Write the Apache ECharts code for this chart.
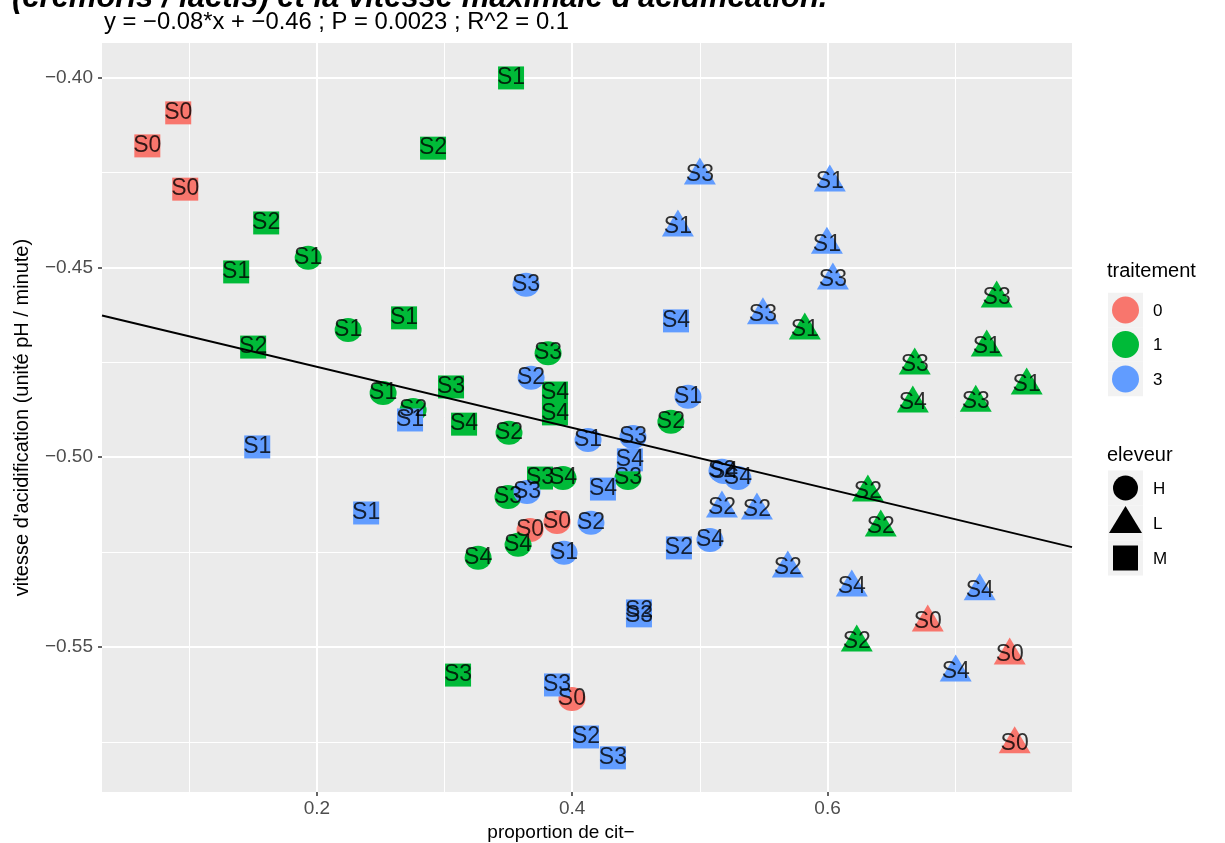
<!DOCTYPE html>
<html><head><meta charset="utf-8">
<script src="https://cdn.jsdelivr.net/npm/echarts@6/dist/echarts.min.js"></script>
<style>html,body{margin:0;padding:0;background:#fff}#c{width:1225px;height:843px}</style>
</head><body><div id="c"></div>
<script>
// ---- tick values ----
const xTicks = [0.2, 0.4, 0.6];
const xMinor = [0.1, 0.3, 0.5, 0.7];
const yTicks = [-0.40, -0.45, -0.50, -0.55];
const yMinor = [-0.425, -0.475, -0.525, -0.575];
const traitements = ['0', '1', '3'];
const eleveurs = ['H', 'L', 'M'];

// ---- points ----
const pointX = [
  0.0914, 0.0672, 0.0969, 0.3881, 0.3670, 0.3998, 0.6785, 0.7427, 0.7466,
  0.3521, 0.2910, 0.1603, 0.1368, 0.2683, 0.1501, 0.3051, 0.3153, 0.3865, 0.3865, 0.3748, 0.3106,
  0.1932, 0.2245, 0.2519, 0.2754, 0.3811, 0.3505, 0.4773, 0.3928, 0.4437, 0.3497, 0.3576, 0.3263,
  0.7325, 0.5822, 0.7247, 0.6683, 0.7560, 0.6668, 0.7161, 0.6316, 0.6417, 0.6229,
  0.1533, 0.2386, 0.2730, 0.4813, 0.4241, 0.4836, 0.4523, 0.4523, 0.3881, 0.4108, 0.4319, 0.4452,
  0.3638, 0.3678, 0.4907, 0.4124, 0.4476, 0.5173, 0.5189, 0.5298, 0.3646, 0.4147, 0.3936, 0.5079,
  0.5000, 0.6018, 0.4828, 0.5995, 0.6042, 0.5494, 0.5173, 0.5447, 0.5689, 0.6190, 0.7192, 0.7004
];
const pointY = [
  -0.4093, -0.4180, -0.4294, -0.5171, -0.5192, -0.5637, -0.5434, -0.5521, -0.5755,
  -0.4001, -0.4186, -0.4383, -0.4512, -0.4633, -0.4710, -0.4815, -0.4913, -0.4831, -0.4886, -0.5055, -0.5574,
  -0.4475, -0.4665, -0.4831, -0.4876, -0.4726, -0.4936, -0.4907, -0.5055, -0.5055, -0.5105, -0.5231, -0.5265,
  -0.4581, -0.4665, -0.4710, -0.4757, -0.4810, -0.4857, -0.4855, -0.5092, -0.5184, -0.5487,
  -0.4973, -0.5147, -0.4902, -0.4641, -0.5084, -0.5239, -0.5405, -0.5418, -0.5600, -0.5737, -0.5792, -0.5007,
  -0.4546, -0.4791, -0.4841, -0.4955, -0.4947, -0.5036, -0.5039, -0.5055, -0.5092, -0.5173, -0.5252, -0.5218,
  -0.4257, -0.4275, -0.4394, -0.4439, -0.4533, -0.4625, -0.5134, -0.5139, -0.5292, -0.5342, -0.5352, -0.5566
];
const pointLabel = [
  'S0','S0','S0','S0','S0','S0','S0','S0','S0',
  'S1','S2','S2','S1','S1','S2','S3','S4','S4','S4','S3','S3',
  'S1','S1','S1','S2','S3','S2','S2','S4','S3','S3','S4','S4',
  'S3','S1','S1','S3','S1','S4','S3','S2','S2','S2',
  'S1','S1','S1','S4','S4','S2','S2','S3','S3','S2','S3','S4',
  'S3','S2','S1','S1','S3','S2','S4','S4','S3','S2','S1','S4',
  'S3','S1','S1','S1','S3','S3','S2','S2','S2','S4','S4','S4'
];
const pointTraitement = [
  '0','0','0','0','0','0','0','0','0',
  '1','1','1','1','1','1','1','1','1','1','1','1',
  '1','1','1','1','1','1','1','1','1','1','1','1',
  '1','1','1','1','1','1','1','1','1','1',
  '3','3','3','3','3','3','3','3','3','3','3','3',
  '3','3','3','3','3','3','3','3','3','3','3','3',
  '3','3','3','3','3','3','3','3','3','3','3','3'
];
const pointEleveur = [
  'M','M','M','H','H','H','L','L','L',
  'M','M','M','M','M','M','M','M','M','M','M','M',
  'H','H','H','H','H','H','H','H','H','H','H','H',
  'L','L','L','L','L','L','L','L','L','L',
  'M','M','M','M','M','M','M','M','M','M','M','M',
  'H','H','H','H','H','H','H','H','H','H','H','H',
  'L','L','L','L','L','L','L','L','L','L','L','L'
];
// regression line end points
const lineX = [0.0317, 0.7915];
const lineY = [-0.4627, -0.5237];

const FONT = '"Liberation Sans", Arial, Helvetica, sans-serif';
const colors = { '0': '#F8766D', '1': '#00BA38', '3': '#619CFF' };
const shapes = {
  H: { symbol: 'circle', size: [27, 24], offset: [0, 0] },
  L: { symbol: 'triangle', size: [32, 27], offset: [0, -4] },
  M: { symbol: 'rect', size: [26, 23], offset: [0, 0] }
};

const series = [];
traitements.forEach(t => {
  eleveurs.forEach(e => {
    const data = [];
    pointX.forEach((x, i) => {
      if (pointTraitement[i] === t && pointEleveur[i] === e) data.push([x, pointY[i]]);
    });
    if (!data.length) return;
    series.push({
      type: 'scatter', name: t + '-' + e, data,
      symbol: shapes[e].symbol, symbolSize: shapes[e].size, symbolOffset: shapes[e].offset,
      itemStyle: { color: colors[t], opacity: 1 },
      silent: true, z: 2
    });
  });
});
series.push({
  type: 'line', data: lineX.map((x, i) => [x, lineY[i]]),
  symbol: 'none', lineStyle: { color: '#000', width: 2 }, silent: true, z: 3
});
series.push({
  type: 'scatter', name: 'labels',
  data: pointX.map((x, i) => [x, pointY[i], pointLabel[i]]),
  symbol: 'circle', symbolSize: 1,
  itemStyle: { color: 'rgba(0,0,0,0)' },
  label: { show: true, position: 'inside', formatter: p => p.value[2], color: '#000', fontSize: 23, fontFamily: FONT },
  silent: true, z: 4
});

const legendG = [];
const tRows = [310, 344.5, 379];
legendG.push({ type: 'text', x: 1107, y: 271, style: { text: 'traitement', font: '20px ' + FONT, fill: '#000', verticalAlign: 'middle' } });
traitements.forEach((t, i) => {
  legendG.push({ type: 'rect', shape: { x: 1108, y: tRows[i] - 17.25, width: 35, height: 34.5 }, style: { fill: '#F2F2F2' } });
  legendG.push({ type: 'circle', shape: { cx: 1125.5, cy: tRows[i], r: 13.5 }, style: { fill: colors[t] } });
  legendG.push({ type: 'text', x: 1153, y: tRows[i] + 1, style: { text: t, font: '17px ' + FONT, fill: '#000', verticalAlign: 'middle' } });
});
const eRows = [488, 523, 558];
legendG.push({ type: 'text', x: 1107, y: 455, style: { text: 'eleveur', font: '20px ' + FONT, fill: '#000', verticalAlign: 'middle' } });
eleveurs.forEach((e, i) => {
  const cy = eRows[i];
  legendG.push({ type: 'rect', shape: { x: 1108, y: cy - 17.5, width: 35, height: 35 }, style: { fill: '#F2F2F2' } });
  if (e === 'H') legendG.push({ type: 'circle', shape: { cx: 1125.5, cy: cy, r: 12.5 }, style: { fill: '#000' } });
  if (e === 'L') legendG.push({ type: 'polygon', shape: { points: [[1109, cy + 10], [1142, cy + 10], [1125.5, cy - 17]] }, style: { fill: '#000' } });
  if (e === 'M') legendG.push({ type: 'rect', shape: { x: 1113, y: cy - 12.5, width: 25, height: 25 }, style: { fill: '#000' } });
  legendG.push({ type: 'text', x: 1153, y: cy + 1, style: { text: e, font: '17px ' + FONT, fill: '#000', verticalAlign: 'middle' } });
});

const chart = echarts.init(document.getElementById('c'), null, { renderer: 'canvas' });
const yFmt = v => (v < 0 ? '\u2212' : '') + Math.abs(v).toFixed(2);
chart.setOption({
  animation: false,
  backgroundColor: '#fff',
  grid: { left: 102, right: 153, top: 43, bottom: 51, show: true, backgroundColor: '#EBEBEB', borderWidth: 0, outerBoundsMode: 'none' },
  xAxis: [
    {
      type: 'value', min: 0.0317, max: 0.7915,
      axisLine: { show: false },
      axisTick: { show: true, customValues: xTicks, length: 4, lineStyle: { color: '#333', width: 1.5 } },
      axisLabel: { customValues: xTicks, color: '#4D4D4D', fontSize: 19, fontFamily: FONT, margin: 7, formatter: v => String(v) },
      splitLine: { show: true, lineStyle: { color: '#fff', width: 2 } },
      name: 'proportion de cit\u2212', nameLocation: 'middle', nameGap: 28,
      nameTextStyle: { color: '#000', fontSize: 19, fontFamily: FONT, padding: [0, 52, 0, 0] }
    },
    {
      type: 'value', min: 0.0317, max: 0.7915,
      axisLine: { show: false },
      axisTick: { show: false, customValues: xMinor },
      axisLabel: { show: false, customValues: xMinor },
      splitLine: { show: true, lineStyle: { color: '#fff', width: 1 } }
    }
  ],
  yAxis: [
    {
      type: 'value', min: -0.5882, max: -0.3909,
      axisLine: { show: false },
      axisTick: { show: true, customValues: yTicks, length: 4, lineStyle: { color: '#333', width: 1.5 } },
      axisLabel: { customValues: yTicks, color: '#4D4D4D', fontSize: 19, fontFamily: FONT, margin: 9, formatter: yFmt },
      splitLine: { show: true, lineStyle: { color: '#fff', width: 2 } },
      name: "vitesse d'acidification (unit\u00e9 pH / minute)", nameLocation: 'middle', nameGap: 70,
      nameTextStyle: { color: '#000', fontSize: 20, fontFamily: FONT }
    },
    {
      type: 'value', min: -0.5882, max: -0.3909,
      axisLine: { show: false },
      axisTick: { show: false, customValues: yMinor },
      axisLabel: { show: false, customValues: yMinor },
      splitLine: { show: true, lineStyle: { color: '#fff', width: 1 } }
    }
  ],
  series,
  graphic: [
    { type: 'text', x: 12, y: -2, style: { text: "(cremoris / lactis) et la vitesse maximale d'acidification.", font: 'italic bold 31px ' + FONT, fill: '#000', verticalAlign: 'middle' } },
    { type: 'text', x: 104, y: 22, style: { text: 'y = \u22120.08*x + \u22120.46 ; P = 0.0023 ; R^2 = 0.1', font: '23.8px ' + FONT, fill: '#000', verticalAlign: 'middle' } }
  ].concat(legendG)
});
</script></body></html>
